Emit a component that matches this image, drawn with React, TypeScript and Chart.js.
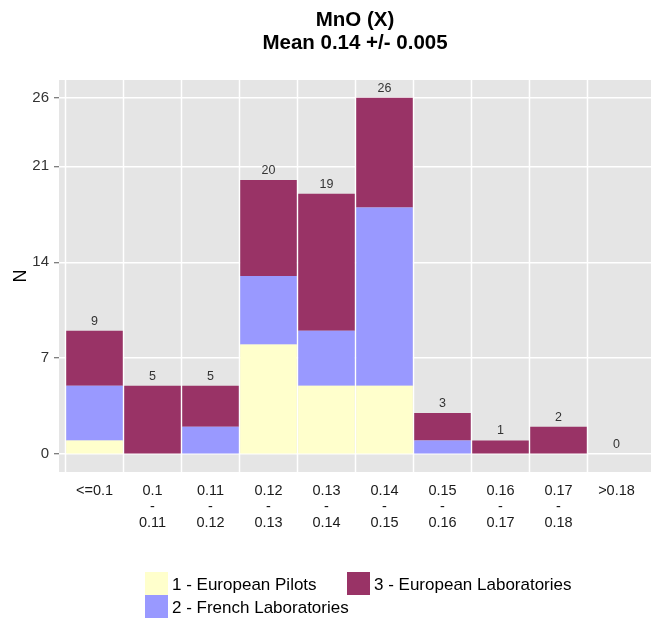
import React, { useEffect, useRef } from 'react';
import { Chart, registerables } from 'chart.js';

Chart.register(...registerables);

const titleLines = ['MnO (X)', 'Mean 0.14 +/- 0.005'];
const yAxisTitle = 'N';
const categories: string[][] = [
  ['<=0.1'],
  ['0.1', '-', '0.11'],
  ['0.11', '-', '0.12'],
  ['0.12', '-', '0.13'],
  ['0.13', '-', '0.14'],
  ['0.14', '-', '0.15'],
  ['0.15', '-', '0.16'],
  ['0.16', '-', '0.17'],
  ['0.17', '-', '0.18'],
  ['>0.18'],
];
const europeanPilots = [1, 0, 0, 8, 5, 5, 0, 0, 0, 0];
const frenchLaboratories = [4, 0, 2, 5, 4, 13, 1, 0, 0, 0];
const europeanLaboratories = [4, 5, 3, 7, 10, 8, 2, 1, 2, 0];
const yTicks = [0, 7, 14, 21, 26];
const seriesLabels = ['1 - European Pilots', '2 - French Laboratories', '3 - European Laboratories'];
const seriesColors = ['#FFFFCC', '#9999FF', '#993366'];

const FONT = 'Arial, "Liberation Sans", sans-serif';

const panelPlugin = {
  id: 'panelPlugin',
  beforeDraw(chart: any) {
    const { ctx, chartArea: a } = chart;
    ctx.save();
    ctx.fillStyle = '#FFFFFF';
    ctx.fillRect(0, 0, chart.width, chart.height);
    ctx.fillStyle = '#E5E5E5';
    ctx.fillRect(a.left, a.top, a.right - a.left, a.bottom - a.top);
    ctx.restore();
  },
  beforeDatasetsDraw(chart: any) {
    const { ctx, chartArea: a } = chart;
    const xs = chart.scales.x;
    ctx.save();
    ctx.strokeStyle = '#FFFFFF';
    ctx.lineWidth = 1.5;
    categories.forEach((_, i) => {
      const px = xs.getPixelForValue(i - 0.5);
      ctx.beginPath();
      ctx.moveTo(px, a.top);
      ctx.lineTo(px, a.bottom);
      ctx.stroke();
    });
    ctx.restore();
  },
  afterDatasetsDraw(chart: any) {
    const { ctx } = chart;
    const xs = chart.scales.x;
    const ys = chart.scales.y;
    ctx.save();
    ctx.font = `12.5px ${FONT}`;
    ctx.fillStyle = '#333333';
    ctx.textAlign = 'center';
    ctx.textBaseline = 'middle';
    categories.forEach((_, i) => {
      const total = europeanPilots[i] + frenchLaboratories[i] + europeanLaboratories[i];
      ctx.fillText(String(total), xs.getPixelForValue(i), ys.getPixelForValue(total) - 9.5);
    });
    ctx.restore();
  },
  afterDraw(chart: any) {
    const { ctx, chartArea: a } = chart;
    ctx.save();
    // title
    ctx.fillStyle = '#000000';
    ctx.textAlign = 'center';
    ctx.textBaseline = 'middle';
    ctx.font = `bold 20.5px ${FONT}`;
    const cx = (a.left + a.right) / 2;
    ctx.fillText(titleLines[0], cx, 20.5);
    ctx.fillText(titleLines[1], cx, 43.5);
    // y axis title
    ctx.save();
    ctx.translate(21.5, (a.top + a.bottom) / 2);
    ctx.rotate(-Math.PI / 2);
    ctx.font = `18px ${FONT}`;
    ctx.fillText(yAxisTitle, 0, 0);
    ctx.restore();
    // legend (two rows, column-major)
    const items = [
      { idx: 0, x: 145, y: 572 },
      { idx: 1, x: 145, y: 595 },
      { idx: 2, x: 347, y: 572 },
    ];
    ctx.font = `17px ${FONT}`;
    ctx.textAlign = 'left';
    items.forEach((it) => {
      ctx.fillStyle = seriesColors[it.idx];
      ctx.fillRect(it.x, it.y, 23, 23);
      ctx.fillStyle = '#000000';
      ctx.fillText(seriesLabels[it.idx], it.x + 27, it.y + 13);
    });
    ctx.restore();
  },
};

export default function App() {
  const ref = useRef<HTMLCanvasElement>(null);
  useEffect(() => {
    if (!ref.current) return;
    const seriesValues = [europeanPilots, frenchLaboratories, europeanLaboratories];
    const chart = new Chart(ref.current, {
      type: 'bar',
      data: {
        datasets: seriesValues.map((vals, k) => ({
          label: seriesLabels[k],
          data: vals.map((v, i) => ({ x: i, y: v })),
          backgroundColor: seriesColors[k],
          borderWidth: 0,
          barPercentage: 0.975,
          categoryPercentage: 1,
        })),
      },
      options: {
        responsive: false,
        animation: false,
        devicePixelRatio: 1,
        layout: { padding: { left: 0, right: 6, top: 80, bottom: 79 } },
        plugins: {
          legend: { display: false },
          title: { display: false },
          tooltip: { enabled: false },
        },
        scales: {
          x: {
            type: 'linear',
            min: -0.612,
            max: 9.595,
            stacked: true,
            offset: false,
            grid: { display: false, drawTicks: false },
            border: { display: false },
            afterBuildTicks: (s: any) => {
              s.ticks = categories.map((_, i) => ({ value: i }));
            },
            afterFit: (s: any) => {
              s.height = 70;
            },
            ticks: {
              autoSkip: false,
              maxRotation: 0,
              minRotation: 0,
              padding: 11,
              color: '#1A1A1A',
              font: { family: FONT, size: 14.5, lineHeight: '16px' },
              callback: (v: any) => categories[Math.round(Number(v))] ?? '',
            },
          },
          y: {
            type: 'linear',
            min: -1.3,
            max: 27.3,
            stacked: true,
            afterBuildTicks: (s: any) => {
              s.ticks = yTicks.map((v) => ({ value: v }));
            },
            afterFit: (s: any) => {
              s.width = 59;
            },
            grid: {
              color: '#FFFFFF',
              lineWidth: 1.5,
              drawTicks: true,
              tickLength: 5,
              tickColor: '#555555',
              tickWidth: 1,
            },
            border: { display: false },
            ticks: {
              padding: 5,
              color: '#333333',
              font: { family: FONT, size: 15 },
            },
          },
        },
      },
      plugins: [panelPlugin],
    } as any);
    return () => chart.destroy();
  }, []);
  return (
    <div style={{ position: 'fixed', left: 0, top: 0, width: 657, height: 621, background: '#fff' }}>
      <canvas ref={ref} width={657} height={621} style={{ display: 'block' }} />
    </div>
  );
}
